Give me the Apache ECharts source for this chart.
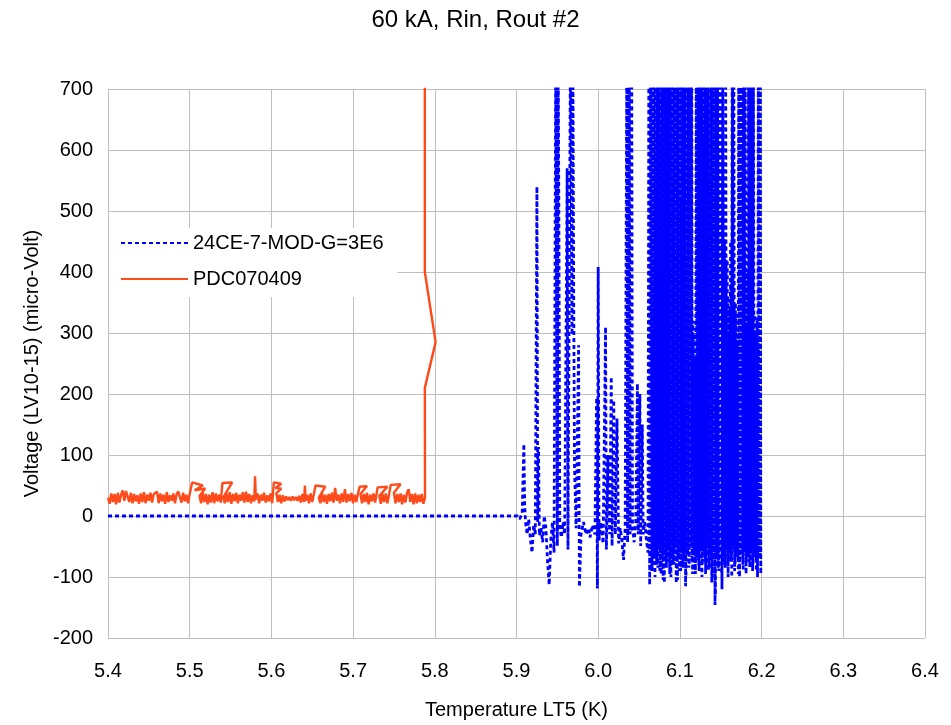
<!DOCTYPE html>
<html>
<head>
<meta charset="utf-8">
<script src="https://cdn.jsdelivr.net/npm/echarts@6/dist/echarts.min.js"></script>
<style>html,body{margin:0;padding:0;background:#fff}#c{width:951px;height:725px}</style>
</head>
<body>
<div id="c"></div>
<script>
var titleText = "60 kA, Rin, Rout #2";
var xName = "Temperature LT5 (K)";
var yName = "Voltage (LV10-15) (micro-Volt)";
var seriesNames = ["24CE-7-MOD-G=3E6", "PDC070409"];

var blueX = [5.400,5.901,5.904,5.907,5.909,5.910,5.911,5.913,5.915,5.917,5.919,5.921,5.923,5.925,5.926,5.927,5.928,5.930,5.932,5.934,5.936,5.938,5.940,5.942,5.944,5.946,5.948,5.950,5.951,5.952,5.953,5.955,5.957,5.959,5.962,5.963,5.966,5.968,5.969,5.970,5.971,5.973,5.976,5.977,5.979,5.982,5.985,5.988,5.990,5.993,5.996,5.998,5.999,6.000,6.001,6.003,6.006,6.009,6.010,6.012,6.014,6.016,6.017,6.019,6.021,6.023,6.025,6.027,6.029,6.031,6.033,6.035,6.036,6.038,6.039,6.041,6.042,6.044,6.046,6.048,6.049,6.051,6.052,6.054,6.055,6.057,6.059,6.061,6.062,6.063,6.064,6.066,6.067,6.068,
6.070,6.071,6.072,6.073,6.074,6.075,6.076,6.077,6.078,6.079,6.080,6.081,6.082,6.083,6.084,6.085,6.086,6.087,6.088,6.089,6.090,6.091,6.092,6.093,6.094,6.095,6.096,6.097,6.098,6.099,6.100,6.101,6.102,6.103,6.104,6.105,6.106,6.107,6.108,6.109,6.110,6.111,6.112,6.113,6.114,6.115,6.116,6.117,6.118,6.119,6.120,6.121,6.122,6.123,6.124,6.125,6.126,6.127,6.128,6.129,6.130,6.131,6.132,6.133,6.134,6.135,6.136,6.137,6.138,6.139,6.140,6.141,6.142,6.143,6.144,6.145,6.146,6.147,6.148,6.149,6.150,6.151,6.152,6.153,6.154,6.155,6.156,6.157,6.158,6.159,6.160,6.161,6.162,6.163,6.164,6.165,6.166,6.167,6.168,6.169,6.170,6.171,6.172,6.173,6.174,6.175,6.176,6.177,6.178,6.179,6.180,6.181,6.182,6.183,6.184,6.185,6.186,6.187,6.188,6.189,6.190,6.191,6.192,6.193,6.194,6.195,6.196,6.197,6.198,6.199,
6.1985,6.1975,6.1965,6.1955,6.1945,6.1935,6.1925,6.1915,6.1905,6.1895,
6.1885,6.1875,6.1865,6.1855,6.1845,6.1835,6.1825,6.1815,6.1805,6.1795,
6.1785,6.1775,6.1765,6.1755,6.1745,6.1735,6.1725,6.1715,6.1705,6.1695,
6.1685,6.1675,6.1665,6.1655,6.1645,6.1635,6.1625,6.1615,6.1605,6.1595,
6.1585,6.1575,6.1565,6.1555,6.1545,6.1535,6.1525,6.1515,6.1505,6.1495,
6.1485,6.1475,6.1465,6.1455,6.1445,6.1435,6.1425,6.1415,6.1405,6.1395,
6.1385,6.1375,6.1365,6.1355,6.1345,6.1335,6.1325,6.1315,6.1305,6.1295,
6.1285,6.1275,6.1265,6.1255,6.1245,6.1235,6.1225,6.1215,6.1205,6.1195,
6.1185,6.1175,6.1165,6.1155,6.1145,6.1135,6.1125,6.1115,6.1105,6.1095,
6.1085,6.1075,6.1065,6.1055,6.1045,6.1035,6.1025,6.1015,6.1005,6.0995,
6.0985,6.0975,6.0965,6.0955,6.0945,6.0935,6.0925,6.0915,6.0905,6.0895,
6.0885,6.0875,6.0865,6.0855,6.0845,6.0835,6.0825,6.0815,6.0805,6.0795,
6.0785,6.0775,6.0765,6.0755,6.0745,6.0735,6.0725,6.0715,6.0705,6.0695,
6.0685,6.0675,6.0665,6.0655];
var blueY = [0,0,-5,5,118,20,-10,-30,-5,-38,-60,-15,-30,540,-10,113,-32,-20,-43,0,-20,-75,-113,-40,-10,-60,760,-49,760,453,-20,-35,-10,-30,570,-55,760,297,760,367,80,-20,280,-116,-30,-10,-30,-20,-35,-15,-30,194,-119,408,-40,-10,-45,310,-55,100,-30,228,-49,190,-30,160,-45,-20,-40,-72,-20,760,-43,760,-30,760,-20,-43,-10,217,-30,200,-49,150,-30,-10,-40,-60,760,-113,760,-90,760,-70,
760,-60,760,-85,760,-50,760,-95,760,-65,760,-110,760,-55,760,-75,760,-45,760,-100,760,-60,760,-80,760,-50,760,-105,760,-65,760,-90,760,-55,760,-70,760,-115,760,-60,760,-85,760,-50,760,-75,320,-60,250,-95,760,-55,760,-80,760,-60,760,-100,760,-50,760,-75,760,-65,760,-90,760,-55,760,-110,760,-70,760,-146,760,-60,760,-85,760,-55,760,-95,760,-65,380,-80,760,-50,420,-100,300,-60,450,-75,760,-55,760,-90,350,-60,280,-70,760,-100,760,-55,760,-80,760,-60,760,-95,400,-55,760,-75,760,-60,760,-90,760,-50,330,-70,270,-100,760,-60,760,-95,
760,-70,280,-55,320,-90,300,-60,260,-80,
760,-50,760,-85,540,-65,310,-75,300,-55,
760,-90,600,-60,760,-70,480,-95,290,-65,
330,-80,350,-50,760,-100,380,-60,340,-75,
360,-55,420,-85,450,-65,760,-120,520,-60,
760,-90,600,-70,760,-130,760,-55,650,-100,
760,-65,560,-85,760,-50,700,-95,760,-60,
620,-80,760,-55,760,-90,760,-65,300,-75,
260,-60,300,-95,760,-50,580,-80,760,-65,
760,-100,640,-55,760,-85,760,-60,520,-90,
760,-70,760,-110,600,-55,760,-80,760,-65,
700,-95,760,-50,560,-85,760,-70,760,-105,
760,-60,620,-90,760,-55,760,-80,500,-100,
760,-65,300,-80];

var redX = [5.400,5.402,5.404,5.406,5.408,5.410,5.412,5.414,5.416,5.418,5.420,5.422,5.424,5.426,5.428,5.430,5.432,5.434,5.436,5.438,5.440,5.442,5.444,5.446,5.448,5.450,5.452,5.454,5.456,5.458,5.460,5.462,5.464,5.466,5.468,5.470,5.472,5.474,5.476,5.478,5.480,5.482,5.484,5.486,5.488,5.490,5.492,5.494,5.496,5.498,
5.500,5.503,5.516,5.506,5.519,5.512,5.514,5.516,5.518,5.520,5.522,5.524,5.526,5.528,5.530,5.532,5.534,5.536,5.538,5.540,5.552,5.541,5.543,5.545,5.547,5.549,5.551,5.553,5.555,5.557,5.559,5.561,5.563,5.565,5.567,5.569,5.571,5.573,5.575,5.577,5.579,5.580,5.581,5.583,5.585,5.587,5.589,5.591,5.593,5.595,5.597,5.599,5.601,5.603,5.612,5.605,5.612,5.606,5.608,5.610,5.612,5.614,5.616,5.618,5.620,5.622,5.624,5.626,5.628,5.630,5.632,5.634,5.636,5.638,5.640,5.641,5.642,5.644,5.646,5.648,5.650,5.652,5.654,5.666,5.658,5.660,5.662,5.664,5.666,5.668,5.670,5.672,5.674,5.676,5.678,5.680,5.682,5.684,5.686,5.688,5.690,5.692,5.694,5.696,5.698,5.700,5.702,5.704,5.706,5.708,5.717,5.709,5.711,5.713,5.715,5.717,5.719,5.721,5.723,5.725,5.727,5.730,5.742,5.732,5.734,5.736,5.738,5.740,5.742,5.744,5.746,5.758,5.750,5.752,5.754,5.756,5.758,5.760,5.762,5.764,5.766,5.768,5.770,5.772,5.774,5.776,5.778,5.780,5.782,5.784,5.786,5.788,5.7878,5.801,5.7878,5.7878];
var redY = [30,20,37,23,36,19,38,22,35,42,25,41,40,23,38,21,36,24,34,20,37,23,39,21,35,25,38,22,36,39,40,21,37,24,35,20,39,23,34,25,37,21,36,40,41,22,38,24,35,21,
36,55,50,42,45,33,21,38,23,36,19,35,22,39,21,37,24,35,22,54,55,30,21,37,23,39,20,36,24,38,21,35,25,39,22,40,23,36,21,34,24,65,27,37,21,35,25,38,22,34,24,37,21,55,53,46,45,37,23,35,21,34,24,32,26,31,25,32,26,31,25,33,22,36,23,50,25,35,21,37,23,36,50,48,30,21,37,23,35,20,36,24,38,22,46,25,35,21,37,23,44,22,36,24,38,21,35,23,37,48,49,36,21,36,23,38,19,35,24,37,22,47,48,33,20,36,23,37,21,35,51,52,38,21,36,23,37,19,35,22,38,44,23,36,19,37,21,35,23,36,20,30,210,285,400,760];

var xMin = 5.4, xMax = 6.4, xStep = 0.1;
var yMin = -200, yMax = 700, yStep = 100;

var blueData = blueX.map(function (x, i) { return [x, blueY[i]]; });
var redData = redX.map(function (x, i) { return [x, redY[i]]; });

var font = "'Liberation Sans', Arial, sans-serif";
var chart = echarts.init(document.getElementById('c'), null, { renderer: 'canvas' });
chart.setOption({
  animation: false,
  backgroundColor: '#ffffff',
  title: {
    text: titleText, left: 'center', top: 3,
    textStyle: { fontFamily: font, fontSize: 24, fontWeight: 'normal', color: '#000' }
  },
  legend: {
    left: 109, top: 228, orient: 'vertical',
    backgroundColor: '#ffffff',
    padding: [5, 14, 8, 11],
    itemWidth: 67, itemHeight: 14, itemGap: 16,
    itemStyle: { opacity: 0 },
    textStyle: { fontFamily: font, fontSize: 20, color: '#000' },
    data: seriesNames
  },
  grid: { left: 108, right: 26, top: 89, bottom: 82, containLabel: false },
  xAxis: {
    type: 'value', min: xMin, max: xMax, interval: xStep,
    name: xName, nameLocation: 'middle', nameGap: 62,
    nameTextStyle: { fontFamily: font, fontSize: 20, color: '#000' },
    axisLine: { show: true, lineStyle: { color: '#bfbfbf', width: 1 } },
    axisTick: { show: false },
    axisLabel: { fontFamily: font, fontSize: 20, color: '#000', margin: 23,
      formatter: function (v) { return v.toFixed(1); } },
    splitLine: { show: true, lineStyle: { color: '#bfbfbf', width: 1 } }
  },
  yAxis: {
    type: 'value', min: yMin, max: yMax, interval: yStep,
    name: yName, nameLocation: 'middle', nameGap: 66, nameRotate: 90,
    nameTextStyle: { fontFamily: font, fontSize: 20, color: '#000' },
    axisLine: { show: true, lineStyle: { color: '#bfbfbf', width: 1 } },
    axisTick: { show: false },
    axisLabel: { fontFamily: font, fontSize: 20, color: '#000', margin: 15 },
    splitLine: { show: true, lineStyle: { color: '#bfbfbf', width: 1 } }
  },
  series: [
    {
      name: seriesNames[0], type: 'line', data: blueData, symbol: 'none',
      clip: true, z: 2,
      lineStyle: { color: '#0000ff', width: 2.8, type: [4, 3] },
      itemStyle: { color: '#0000ff' }
    },
    {
      name: seriesNames[1], type: 'line', data: redData, symbol: 'none',
      clip: true, z: 3,
      lineStyle: { color: '#ff4a1a', width: 2.4 },
      itemStyle: { color: '#ff4a1a' }
    }
  ]
});
</script>
</body>
</html>
